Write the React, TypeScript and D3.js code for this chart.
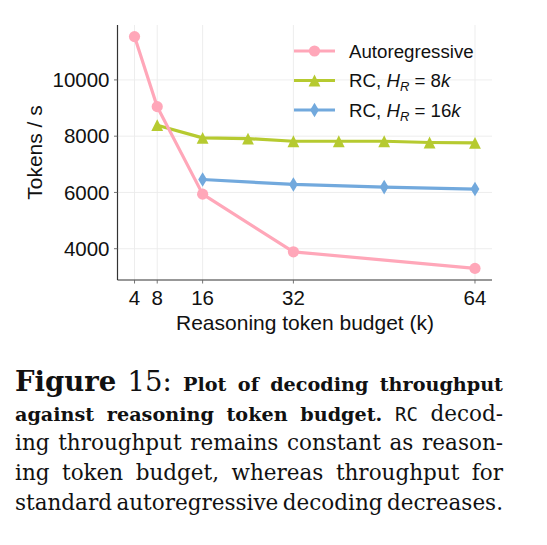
import React from "react";
import * as d3 from "d3";

// throughput (tokens / s) against reasoning budget (k tokens)
const arBudget = [4, 8, 16, 32, 64];
const arTokens = [11540, 9050, 5940, 3890, 3300];
const rc8Budget = [8, 16, 24, 32, 40, 48, 56, 64];
const rc8Tokens = [8390, 7940, 7915, 7820, 7820, 7820, 7775, 7760];
const rc16Budget = [16, 32, 48, 64];
const rc16Tokens = [6460, 6285, 6190, 6120];

const xTicks = [4, 8, 16, 32, 64];
const yTicks = [4000, 6000, 8000, 10000];

const PINK = "#ffa7b9";
const GREEN = "#b6ca30";
const BLUE = "#72a9dd";

const SANS = "'Liberation Sans', Arial, sans-serif";
const SERIF = "'DejaVu Serif', serif";
const MONO = "'DejaVu Sans Mono', monospace";

type Word = { t: string; w?: "bold" | "normal"; size?: number; font?: string };

const BODY = 21.5;
const BOLD = 19.2;
const captionLines: Word[][] = [
  [
    { t: "Figure", w: "bold", size: 27.5 },
    { t: "15:", size: 27.5 },
    { t: "Plot", w: "bold", size: BOLD },
    { t: "of", w: "bold", size: BOLD },
    { t: "decoding", w: "bold", size: BOLD },
    { t: "throughput", w: "bold", size: BOLD },
  ],
  [
    { t: "against", w: "bold", size: BOLD },
    { t: "reasoning", w: "bold", size: BOLD },
    { t: "token", w: "bold", size: BOLD },
    { t: "budget.", w: "bold", size: BOLD },
    { t: "RC", font: MONO, size: 19 },
    { t: "decod-" },
  ],
  "ing throughput remains constant as reason-".split(" ").map((t) => ({ t })),
  "ing token budget, whereas throughput for".split(" ").map((t) => ({ t })),
  "standard autoregressive decoding decreases.".split(" ").map((t) => ({ t })),
];

const pad = (ext: [number, number]) => {
  const m = (ext[1] - ext[0]) * 0.05;
  return [ext[0] - m, ext[1] + m];
};

const margin = { left: 117.5, right: 492, top: 25, bottom: 280 };

const tri = (s: number) => `M0,${-s}L${s},${s}L${-s},${s}Z`;
const thinDiamond = (s: number) => `M0,${-s}L${s * 0.6},0L0,${s}L${-s * 0.6},0Z`;

const Marker = ({ kind, color }: { kind: string; color: string }) => {
  if (kind === "circle") return <circle r={5.6} fill={color} />;
  if (kind === "tri") return <path d={tri(5.9)} fill={color} />;
  return <path d={thinDiamond(7.3)} fill={color} />;
};

export default function App() {
  const allB = [...arBudget, ...rc8Budget, ...rc16Budget];
  const allT = [...arTokens, ...rc8Tokens, ...rc16Tokens];
  const x = d3
    .scaleLinear()
    .domain(pad(d3.extent(allB) as [number, number]))
    .range([margin.left, margin.right]);
  const y = d3
    .scaleLinear()
    .domain(pad(d3.extent(allT) as [number, number]))
    .range([margin.bottom, margin.top]);

  const line = d3
    .line<[number, number]>()
    .x((d) => x(d[0]))
    .y((d) => y(d[1]));

  const series = [
    { key: "rc8", b: rc8Budget, v: rc8Tokens, color: GREEN, kind: "tri" },
    { key: "rc16", b: rc16Budget, v: rc16Tokens, color: BLUE, kind: "dia" },
    { key: "ar", b: arBudget, v: arTokens, color: PINK, kind: "circle" },
  ];

  // justified caption: measure each word and spread the gaps
  const caption = React.useMemo(() => {
    const ctx = document.createElement("canvas").getContext("2d")!;
    const left = 15;
    const right = 503;
    return captionLines.map((words) => {
      const widths = words.map((wd) => {
        ctx.font = `${wd.w === "bold" ? "bold " : ""}${wd.size ?? BODY}px ${wd.font ?? SERIF}`;
        return ctx.measureText(wd.t).width;
      });
      const total = d3.sum(widths);
      const gap = (right - left - total) / (words.length - 1);
      let cx = left;
      return words.map((wd, i) => {
        const pos = cx;
        cx += widths[i] + gap;
        return { ...wd, x: pos };
      });
    });
  }, []);

  const legendRows = [
    { y: 51, color: PINK, kind: "circle" },
    { y: 80.5, color: GREEN, kind: "tri" },
    { y: 110, color: BLUE, kind: "dia" },
  ];

  return (
    <svg
      width={547}
      height={545}
      style={{ position: "absolute", left: 0, top: 0, background: "#fff" }}
    >
      {/* grid */}
      <g stroke="#ebebeb" strokeWidth={0.9}>
        {xTicks.map((t) => (
          <line key={t} x1={x(t)} x2={x(t)} y1={margin.top} y2={margin.bottom} />
        ))}
        {yTicks.map((t) => (
          <line key={t} x1={margin.left} x2={margin.right} y1={y(t)} y2={y(t)} />
        ))}
      </g>

      {/* series */}
      {series.map((s) => (
        <g key={s.key}>
          <path
            d={line(s.b.map((b, i) => [b, s.v[i]]))!}
            fill="none"
            stroke={s.color}
            strokeWidth={3.2}
            strokeLinejoin="round"
          />
          {s.b.map((b, i) => (
            <g key={b} transform={`translate(${x(b)},${y(s.v[i])})`}>
              <Marker kind={s.kind} color={s.color} />
            </g>
          ))}
        </g>
      ))}

      {/* spines and ticks */}
      <g stroke="#333" strokeWidth={1.2}>
        <line x1={margin.left} x2={margin.left} y1={margin.top} y2={margin.bottom} />
        <line x1={margin.left} x2={margin.right} y1={margin.bottom} y2={margin.bottom} />
      </g>
      <g stroke="#666" strokeWidth={0.9}>
        {xTicks.map((t) => (
          <line key={t} x1={x(t)} x2={x(t)} y1={margin.bottom} y2={margin.bottom + 3.5} />
        ))}
        {yTicks.map((t) => (
          <line key={t} x1={margin.left - 3.5} x2={margin.left} y1={y(t)} y2={y(t)} />
        ))}
      </g>
      <g fontFamily={SANS} fontSize={20.5} fill="#111">
        {xTicks.map((t) => (
          <text key={t} x={x(t)} y={304.5} textAnchor="middle">
            {t}
          </text>
        ))}
        {yTicks.map((t) => (
          <text key={t} x={109.5} y={y(t) + 7.3} textAnchor="end">
            {t}
          </text>
        ))}
      </g>
      <text
        x={305}
        y={330}
        textAnchor="middle"
        fontFamily={SANS}
        fontSize={21}
        fill="#111"
      >
        Reasoning token budget (k)
      </text>
      <text
        transform={`translate(41.5,${(margin.top + margin.bottom) / 2}) rotate(-90)`}
        textAnchor="middle"
        fontFamily={SANS}
        fontSize={21}
        fill="#111"
      >
        Tokens / s
      </text>

      {/* legend */}
      {legendRows.map((r) => (
        <g key={r.kind}>
          <line x1={294} x2={335} y1={r.y} y2={r.y} stroke={r.color} strokeWidth={3.2} />
          <g transform={`translate(314.5,${r.y})`}>
            <Marker kind={r.kind} color={r.color} />
          </g>
        </g>
      ))}
      <g fontFamily={SANS} fontSize={18.7} fill="#111">
        <text x={349} y={57.7}>Autoregressive</text>
        <text x={349} y={87}>
          RC, <tspan fontStyle="italic">H</tspan>
          <tspan fontStyle="italic" fontSize={13} dy={4}>R</tspan>
          <tspan dy={-4}> = 8</tspan>
          <tspan fontStyle="italic">k</tspan>
        </text>
        <text x={349} y={116.5}>
          RC, <tspan fontStyle="italic">H</tspan>
          <tspan fontStyle="italic" fontSize={13} dy={4}>R</tspan>
          <tspan dy={-4}> = 16</tspan>
          <tspan fontStyle="italic">k</tspan>
        </text>
      </g>

      {/* caption */}
      <g fill="#111">
        {caption.map((words, li) =>
          words.map((wd, wi) => (
            <text
              key={`${li}-${wi}`}
              x={wd.x}
              y={391 + li * 29.7}
              fontFamily={wd.font ?? SERIF}
              fontWeight={wd.w === "bold" ? "bold" : "normal"}
              fontSize={wd.size ?? BODY}
            >
              {wd.t}
            </text>
          ))
        )}
      </g>
    </svg>
  );
}
